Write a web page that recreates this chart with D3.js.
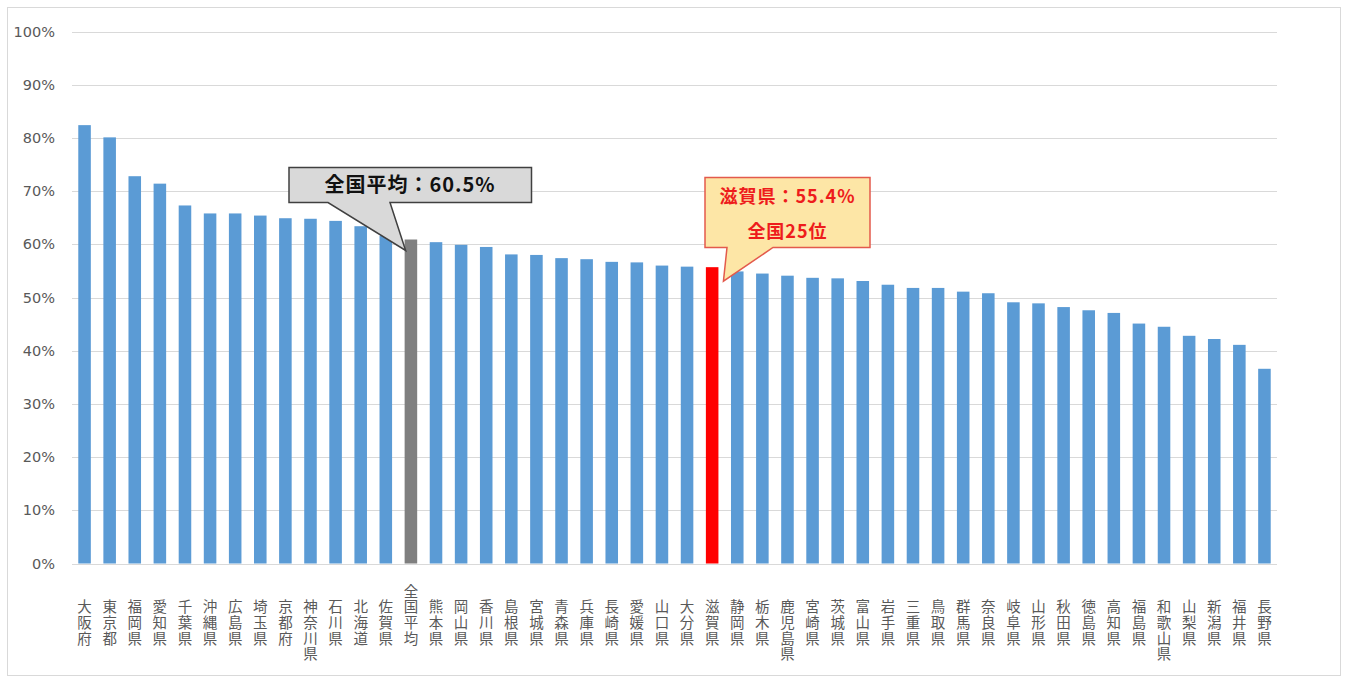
<!DOCTYPE html>
<html>
<head>
<meta charset="utf-8">
<script src="https://cdn.jsdelivr.net/npm/d3@7"></script>
<style>
  body { margin: 0; background: #fff; }
  svg { display: block; }
</style>
</head>
<body>
<div id="chart-area"></div>
<script>
// prefectures, sorted by value
var prefs = ["大阪府","東京都","福岡県","愛知県","千葉県","沖縄県","広島県","埼玉県","京都府","神奈川県",
  "石川県","北海道","佐賀県","全国平均","熊本県","岡山県","香川県","島根県","宮城県","青森県",
  "兵庫県","長崎県","愛媛県","山口県","大分県","滋賀県","静岡県","栃木県","鹿児島県","宮崎県",
  "茨城県","富山県","岩手県","三重県","鳥取県","群馬県","奈良県","岐阜県","山形県","秋田県",
  "徳島県","高知県","福島県","和歌山県","山梨県","新潟県","福井県","長野県"];

var values = [82.4,80.1,72.8,71.4,67.3,65.8,65.8,65.4,64.9,64.8,
  64.4,63.4,61.6,60.9,60.4,59.9,59.5,58.1,58.0,57.4,
  57.2,56.7,56.6,56.0,55.8,55.7,54.9,54.5,54.1,53.7,
  53.6,53.1,52.4,51.8,51.8,51.1,50.8,49.1,48.9,48.2,
  47.6,47.1,45.1,44.5,42.8,42.2,41.1,36.6];

var yTicks = [0,10,20,30,40,50,60,70,80,90,100];

var avgName = "全国平均", shigaName = "滋賀県";
var avgText = "全国平均：60.5%";
var shigaText = ["滋賀県：55.4%", "全国25位"];

var W = 1349, H = 677;
var svg = d3.select("#chart-area").append("svg")
    .attr("width", W)
    .attr("height", H);

// outer frame
svg.append("rect")
    .attr("x", 7.5).attr("y", 7.5)
    .attr("width", 1333).attr("height", 668)
    .attr("fill", "#fff")
    .attr("stroke", "#d9d9d9");

var x = d3.scaleBand()
    .domain(prefs)
    .range([72, 1277])
    .paddingInner(0.5)
    .paddingOuter(0.25);

var y = d3.scaleLinear()
    .domain([0, 100])
    .range([563.5, 31.5]);

// gridlines
svg.selectAll(".grid")
    .data(yTicks)
    .enter()
    .append("line")
    .attr("x1", 72).attr("x2", 1277)
    .attr("y1", d => Math.round(y(d)) + 0.5)
    .attr("y2", d => Math.round(y(d)) + 0.5)
    .attr("stroke", "#d9d9d9")
    .attr("stroke-width", 1);

// y labels
svg.selectAll(".ylab")
    .data(yTicks)
    .enter()
    .append("text")
    .attr("x", 55)
    .attr("y", d => y(d))
    .attr("dy", "0.35em")
    .attr("text-anchor", "end")
    .attr("font-family", "'DejaVu Sans', Verdana, sans-serif")
    .attr("font-size", "14.5px")
    .attr("fill", "#595959")
    .text(d => d + "%");

// bars
svg.selectAll(".bar")
    .data(prefs)
    .enter()
    .append("rect")
    .attr("x", d => x(d))
    .attr("y", (d, i) => y(values[i]))
    .attr("width", x.bandwidth())
    .attr("height", (d, i) => y(0) - y(values[i]))
    .attr("fill", d => d == avgName ? "#7f7f7f" : (d == shigaName ? "#ff0000" : "#5b9bd5"));

// vertical x labels, one character per text
var lab = svg.selectAll(".xlab")
    .data(prefs)
    .enter()
    .append("g");

lab.each(function(d) {
    var g = d3.select(this);
    var cx = x(d) + x.bandwidth() / 2;
    var start = d == avgName ? 591.5 : 607; // 全国平均 sits one row higher
    d.split("").forEach(function(c, j) {
        g.append("text")
            .attr("x", cx)
            .attr("y", start + j * 15.8)
            .attr("dy", "0.35em")
            .attr("text-anchor", "middle")
            .attr("font-family", "'Noto Sans CJK JP', sans-serif")
            .attr("font-size", "14.5px")
            .attr("fill", "#595959")
            .text(c);
    });
});

// callout: national average
var avgX = x(avgName) + 1;
var avgTop = y(values[prefs.indexOf(avgName)]);
var g1 = svg.append("g");
g1.append("path")
    .attr("d", `M289,167.5 H531.5 V202.5 H390 L${avgX},${avgTop + 11} L328,202.5 H289 Z`)
    .attr("fill", "#d9d9d9")
    .attr("stroke", "#404040")
    .attr("stroke-width", 1.5)
    .attr("stroke-linejoin", "miter");
g1.append("text")
    .attr("x", 410).attr("y", 185)
    .attr("dy", "0.36em")
    .attr("text-anchor", "middle")
    .attr("font-family", "'Noto Sans CJK JP', sans-serif")
    .attr("font-weight", "bold")
    .attr("font-size", "20px")
    .attr("letter-spacing", "1px")
    .attr("fill", "#111")
    .text(avgText);

// callout: Shiga
var shX = x(shigaName) + x.bandwidth();
var shTop = y(values[prefs.indexOf(shigaName)]);
var g2 = svg.append("g");
g2.append("path")
    .attr("d", `M705,177.5 H870 V247.5 H773 L${shX + 5},${shTop + 14} L727,247.5 H705 Z`)
    .attr("fill", "#fde6a6")
    .attr("stroke", "#e35a4c")
    .attr("stroke-width", 1.5);
g2.selectAll("text")
    .data(shigaText)
    .enter()
    .append("text")
    .attr("x", 787.5)
    .attr("y", (d, i) => 196.5 + i * 35)
    .attr("dy", "0.36em")
    .attr("text-anchor", "middle")
    .attr("font-family", "'Noto Sans CJK JP', sans-serif")
    .attr("font-weight", "bold")
    .attr("font-size", "18px")
    .attr("letter-spacing", "1px")
    .attr("fill", "#ee1c1c")
    .text(d => d);
</script>
</body>
</html>
